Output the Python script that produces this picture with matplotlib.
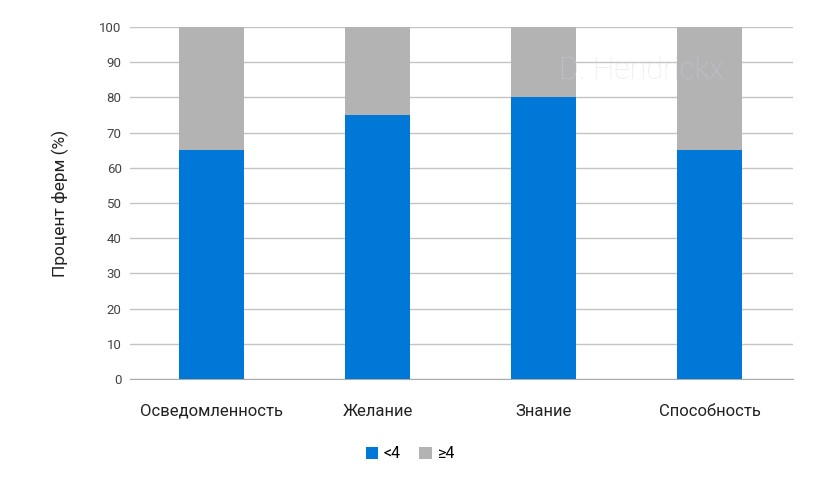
import matplotlib.pyplot as plt
import numpy as np

categories = ["Осведомленность", "Желание", "Знание", "Способность"]
below_4 = [65, 75, 80, 65]
above_4 = [35, 25, 20, 35]
y_ticks = [0, 10, 20, 30, 40, 50, 60, 70, 80, 90, 100]

plt.rcParams["font.family"] = ["Roboto", "DejaVu Sans"]

fig = plt.figure(figsize=(8.2, 4.87), dpi=100)
ax = fig.add_axes([0.1585, 0.2218, 0.8085, 0.7228])

x = np.arange(len(categories))
ax.bar(x, below_4, width=0.39, color="#0078d7", label="<4", zorder=3)
ax.bar(x, above_4, width=0.39, bottom=below_4, color="#b3b3b3", label="≥4", zorder=3)

ax.set_xlim(-0.49, 3.5)
ax.set_ylim(0, 100)
ax.set_yticks(y_ticks)
ax.set_xticks(x)
ax.set_xticklabels(categories, fontsize=12, color="#222222")
ax.tick_params(axis="y", labelsize=9.5, colors="#444444", length=0, pad=6)
ax.tick_params(axis="x", length=0, pad=18)
ax.yaxis.grid(True, color="#c4c4c4", linewidth=1, zorder=0)
for s in ["top", "right", "left"]:
    ax.spines[s].set_visible(False)
ax.spines["bottom"].set_color("#aaaaaa")

ax.set_ylabel("Процент ферм (%)", fontsize=12.5, color="#222222", labelpad=22)

ax.text(0.772, 0.875, "D. Hendrickx", transform=ax.transAxes, fontsize=22,
        fontweight="light", color="#c9d6ea", alpha=0.45,
        ha="center", va="center", zorder=4)

fig.legend(loc="center", bbox_to_anchor=(0.5, 0.068), ncol=2, frameon=False,
           fontsize=11.5, handlelength=0.8, handleheight=0.8, handletextpad=0.3,
           columnspacing=1.2)

fig.savefig("out.png", dpi=100)
